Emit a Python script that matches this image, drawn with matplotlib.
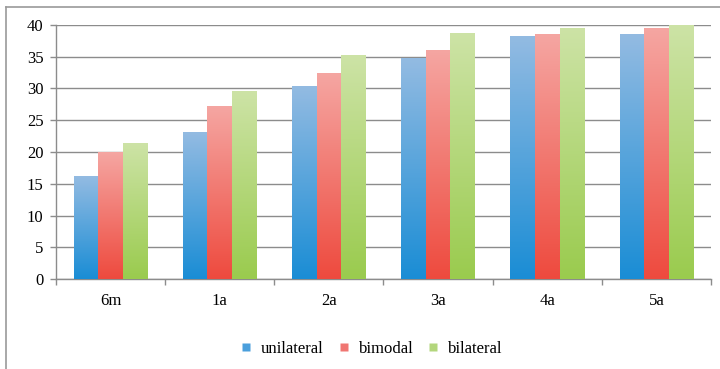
import numpy as np
import matplotlib.pyplot as plt
from matplotlib.colors import LinearSegmentedColormap
from matplotlib.lines import Line2D

plt.rcParams['font.family'] = ['Liberation Serif', 'DejaVu Serif']

categories = ['6m', '1a', '2a', '3a', '4a', '5a']
unilateral = [16.2, 23.1, 30.3, 34.8, 38.2, 38.5]
bimodal = [20.0, 27.2, 32.3, 36.0, 38.5, 39.4]
bilateral = [21.3, 29.6, 35.2, 38.7, 39.5, 40.0]

series = [
    ('unilateral', unilateral, '#93bbe2', '#1a8dd5', '#4a9fdc'),
    ('bimodal', bimodal, '#f5a6a2', '#ee4a3e', '#f07672'),
    ('bilateral', bilateral, '#cde3a6', '#9acb4e', '#b3d67c'),
]

fig = plt.figure(figsize=(7.2, 3.69), dpi=100)
ax = fig.add_axes([56 / 720, 1 - 279 / 369, 655 / 720, 254 / 369])

x = np.arange(len(categories))
width = 0.225
grad = np.linspace(0, 1, 256).reshape(-1, 1)

for i, (name, vals, top, bottom, mid) in enumerate(series):
    cmap = LinearSegmentedColormap.from_list(name, [bottom, top])
    offset = (i - 1) * width
    bars = ax.bar(x + offset, vals, width, color='none', edgecolor='none', zorder=3)
    for b in bars:
        x0 = b.get_x()
        h = b.get_height()
        ax.imshow(grad, cmap=cmap, origin='lower', aspect='auto',
                  extent=(x0, x0 + width, 0, h), zorder=3, interpolation='bilinear')

ax.set_xlim(-0.5, len(categories) - 0.5)
ax.set_ylim(0, 40)
ax.set_yticks(np.arange(0, 41, 5))
ax.yaxis.grid(True, color='#8c8c8c', linewidth=1.0, zorder=0)
ax.set_axisbelow(True)

ax.set_xticks(x)
ax.set_xticklabels(categories)
ax.tick_params(axis='x', length=0, pad=10, labelsize=12)
ax.tick_params(axis='y', length=4, width=1, color='#8c8c8c', pad=5, labelsize=12)

# category boundary tick marks under the axis
ax.set_xticks(np.arange(-0.5, len(categories)), minor=True)
ax.tick_params(axis='x', which='minor', length=4, width=1, color='#8c8c8c')

for s in ['top', 'right']:
    ax.spines[s].set_visible(False)
for s in ['left', 'bottom']:
    ax.spines[s].set_color('#8c8c8c')
    ax.spines[s].set_linewidth(1.0)

handles = [Line2D([0], [0], marker='s', linestyle='none', markersize=6,
                  markerfacecolor=mid, markeredgecolor='none') for _, _, _, _, mid in series]
fig.legend(handles, [s[0] for s in series], loc='center', bbox_to_anchor=(371 / 720, 1 - 349 / 369),
           ncol=3, frameon=False, fontsize=12, handlelength=0.8, handletextpad=0.5,
           columnspacing=0.8)

# outer frame (left and top edges)
fig.add_artist(Line2D([6 / 720, 6 / 720], [0, 1 - 7 / 369], transform=fig.transFigure,
                      color='#9a9a9a', linewidth=1.2))
fig.add_artist(Line2D([6 / 720, 1], [1 - 7 / 369, 1 - 7 / 369], transform=fig.transFigure,
                      color='#9a9a9a', linewidth=1.2))

fig.savefig('out.png', dpi=100)
